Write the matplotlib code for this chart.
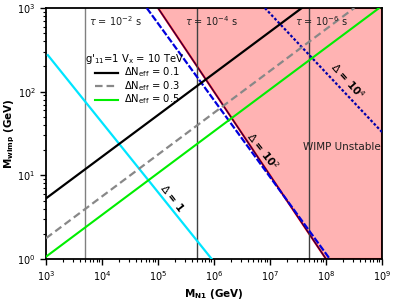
import matplotlib.pyplot as plt

tau_x = [5e3, 5e5, 5e7]
tau_labels = [r"$\tau$ = 10$^{-2}$ s", r"$\tau$ = 10$^{-4}$ s", r"$\tau$ = 10$^{-6}$ s"]

dneff_labels = ["0.1", "0.3", "0.5"]
dneff_x = [[1e3, 3.7e7], [1e3, 3.2e8], [1e3, 8.9e8]]
dneff_y = [[5.3, 1e3], [1.77, 1e3], [1.065, 1e3]]

delta1_x = [1.08e3, 9.1e5]
delta1_y = [273, 1.0]
delta2_x = [6.3e4, 1.17e8]
delta2_y = [1e3, 1.0]
delta4_x = [8.1e6, 1e9]
delta4_y = [1e3, 32.9]

unstable_x = [1e5, 1e9, 1e9, 1e8]
unstable_y = [1e3, 1e3, 1.0, 1.0]

# .. Figure (axes box in pixels: left 46, right 382, top 8, bottom 259).
W, H = 415, 302
L, R, T, B = 46, 382, 8, 259
fig = plt.figure(figsize=(W / 100, H / 100), dpi=100)
ax = fig.add_axes([L / W, (H - B) / H, (R - L) / W, (B - T) / H])
ax.set_xscale("log")
ax.set_yscale("log")
ax.set_xlim(1e3, 1e9)
ax.set_ylim(1, 1e3)


def px(x, y):
    """Pixel position -> axes fraction."""
    return (x - L) / (R - L), (B - y) / (B - T)


# .. Unstable region.
ax.fill(unstable_x, unstable_y, facecolor="#ffb3b3", edgecolor="red", lw=1.5, zorder=1)
ax.plot(unstable_x[::3], unstable_y[::3], color="#1a0050", lw=0.8, zorder=2)

# .. Lifetime lines.
tau_colors = ["#808080", "#404040", "#404040"]
tau_text_px = [89, 185, 295]
for x, c, lab, tx in zip(tau_x, tau_colors, tau_labels, tau_text_px):
    ax.axvline(x, color=c, lw=1.0, zorder=2)
    ax.text(*px(tx, 21), lab, transform=ax.transAxes, fontsize=7,
            color="#202020", va="center", zorder=5)

# .. Delta N_eff lines.
styles = [
    dict(color="black", lw=1.6),
    dict(color="#888888", lw=1.6, dashes=(3.4, 1.8)),
    dict(color="#00ee00", lw=1.5),
]
for x, y, st in zip(dneff_x, dneff_y, styles):
    ax.plot(x, y, zorder=4, **st)

# .. Delta lines.
ax.plot(delta1_x, delta1_y, color="#00e5ff", lw=1.6, zorder=3)
ax.plot(delta2_x, delta2_y, color="#0000dd", lw=1.6, dashes=(3.1, 0.9), zorder=3)
ax.plot(delta4_x, delta4_y, color="#0000aa", lw=1.6, dashes=(1.2, 0.9), zorder=3)

for (tx, ty), lab, rot in [((172, 198), r"$\Delta$ = 1", -52),
                           ((263, 151), r"$\Delta$ = 10$^2$", -52),
                           ((348, 81), r"$\Delta$ = 10$^4$", -48)]:
    ax.text(*px(tx, ty), lab, transform=ax.transAxes, fontsize=7.5,
            fontweight="bold", rotation=rot, ha="center", va="center", zorder=5)
ax.text(*px(381, 147), "WIMP Unstable", transform=ax.transAxes, fontsize=7.5,
        ha="right", va="center", color="#202020", zorder=5)

# .. Legend, drawn by hand to match the compact layout.
ax.text(*px(85, 59), r"g'$_{11}$=1 V$_{\rm x}$ = 10 TeV", transform=ax.transAxes,
        fontsize=7.2, va="center", zorder=6)
for i, (lab, st) in enumerate(zip(dneff_labels, styles)):
    y = 72.5 + 13.5 * i
    x0, y0 = px(95, y)
    x1, _ = px(118, y)
    ax.plot([x0, x1], [y0, y0], transform=ax.transAxes, zorder=6, **st)
    ax.text(*px(124, y), r"$\Delta$N$_{\rm eff}$ = " + lab, transform=ax.transAxes,
            fontsize=7.2, va="center", zorder=6)

# .. Axes styling.
for s in ax.spines.values():
    s.set_linewidth(1.3)
ax.tick_params(which="major", direction="out", length=4, width=1, labelsize=7)
ax.tick_params(which="minor", direction="out", length=2, width=0.8)
ax.tick_params(top=False, right=False, which="both")
ax.set_xlabel(r"M$_{\mathbf{N1}}$ (GeV)", fontsize=7.5, fontweight="bold", labelpad=3)
ax.set_ylabel(r"M$_{\mathbf{wimp}}$ (GeV)", fontsize=7.5, fontweight="bold")
ax.yaxis.set_label_coords(-0.086, 0.5)

fig.savefig("out.png", dpi=100)
